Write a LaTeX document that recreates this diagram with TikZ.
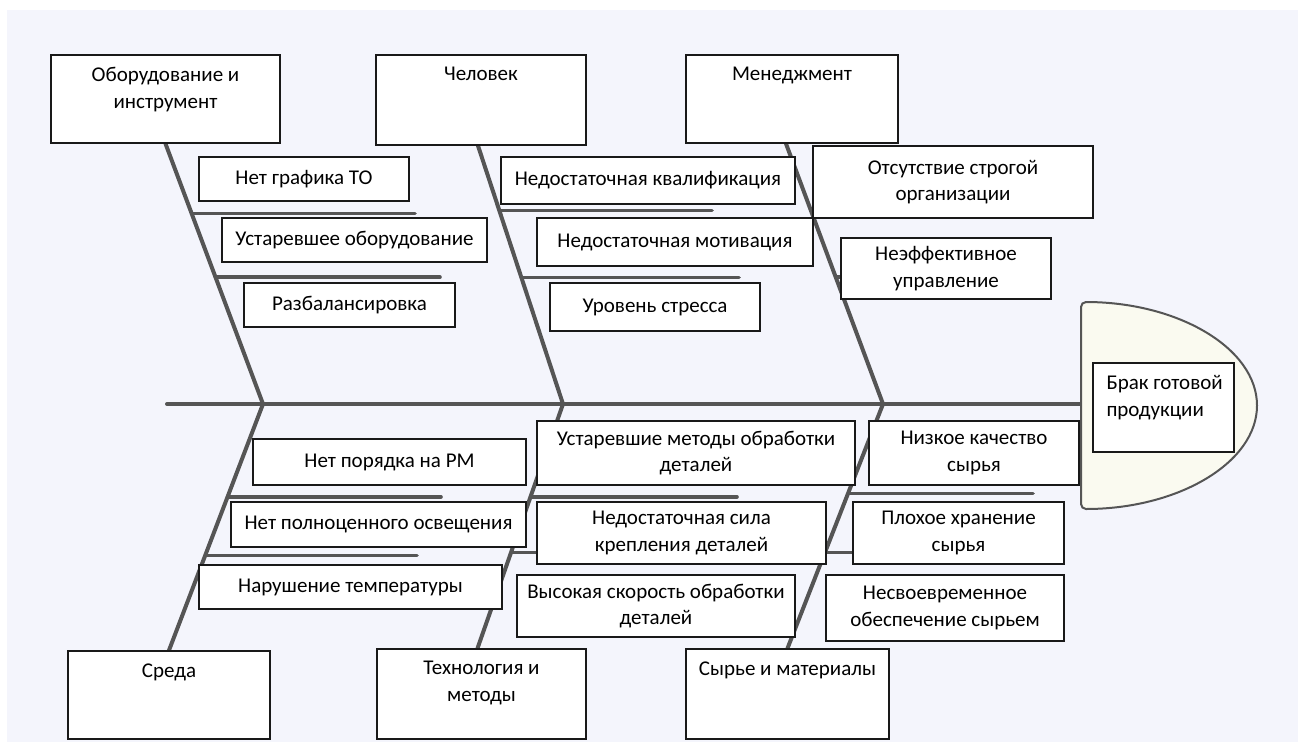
\documentclass[tikz,border=0pt]{standalone}
\usepackage{fontspec}
\setmainfont{Carlito}
\usepackage{xcolor}
\usepackage{tikz}
\usetikzlibrary{positioning,calc}

\pgfdeclarelayer{back}
\pgfdeclarelayer{bones}
\pgfsetlayers{back,bones,main}

\definecolor{paper}{RGB}{244,245,252}
\definecolor{bonegray}{RGB}{85,85,85}
\definecolor{headfill}{RGB}{250,250,240}

\tikzset{
  bone/.style={line width=4pt,draw=bonegray,line cap=round},
  rib/.style={line width=3.6pt,draw=bonegray,line cap=round},
  boxsize/.style 2 args={minimum width=#1,minimum height=#2},
  cause/.style={draw=black!90,line width=1.4pt,fill=white,inner sep=0pt,align=center},
  catbox/.style={draw=black!90,line width=1.4pt,fill=white,inner sep=0pt},
  cattext/.style={anchor=north,inner sep=0pt,align=center,yshift=-13pt},
  headtext/.style={anchor=north west,inner sep=0pt,align=left,xshift=14pt,yshift=-13pt},
}

\begin{document}
\begin{tikzpicture}[x=1pt,y=-1pt,font=\fontsize{21}{26.5}\selectfont]
    \useasboundingbox (0,0) rectangle (1298,742);
    \begin{pgfonlayer}{back}
        \fill[paper] (7,10) rectangle (1298,742);
    \end{pgfonlayer}

    % Head
    \draw[line width=2pt,draw=bonegray,fill=headfill,rounded corners=5pt]
        (1081,509) arc[start angle=90,end angle=-90,x radius=176,y radius=103.5] -- cycle;
    \coordinate (headw) at (1081,404);
    \node[catbox,boxsize={141pt}{89pt},label={[headtext]north west:{Брак готовой\\продукции}}] (defect) at (1163.5,407.5) {};

    % Category boxes
    \node[catbox,boxsize={229pt}{88pt},label={[cattext]north:{Оборудование и\\инструмент}}] (equip) at (165.5,99) {};
    \node[catbox,boxsize={210pt}{90pt},label={[cattext]north:{Человек}}] (people) at (481,100) {};
    \node[catbox,boxsize={212pt}{88pt},label={[cattext]north:{Менеджмент}}] (mgmt) at (792,99) {};
    \node[catbox,boxsize={202pt}{88pt},label={[cattext]north:{Среда}}] (env) at (169,695) {};
    \node[catbox,boxsize={209pt}{90pt},label={[cattext]north:{Технология и\\методы}}] (tech) at (481.5,694) {};
    \node[catbox,boxsize={203pt}{90pt},label={[cattext]north:{Сырье и материалы}}] (mat) at (787.5,694) {};

    % Causes: equipment
    \node[cause,boxsize={210pt}{44pt}] (noplan) at (304,179) {\raisebox{3pt}{Нет графика ТО}};
    \node[cause,boxsize={265pt}{44pt}] (oldeq) at (354.5,240) {\raisebox{3pt}{Устаревшее оборудование}};
    \node[cause,boxsize={211pt}{44pt}] (unbal) at (349.5,305) {\raisebox{3pt}{Разбалансировка}};
    % Causes: people
    \node[cause,boxsize={294pt}{47pt}] (qualif) at (648,180.5) {\raisebox{3pt}{Недостаточная квалификация}};
    \node[cause,boxsize={276pt}{48pt}] (motiv) at (675,242) {\raisebox{3pt}{Недостаточная мотивация}};
    \node[cause,boxsize={210pt}{48pt}] (stress) at (655,307) {\raisebox{3pt}{Уровень стресса}};
    % Causes: management
    \node[cause,boxsize={280pt}{72pt}] (noorg) at (953,182) {Отсутствие строгой\\организации};
    \node[cause,boxsize={210pt}{61pt}] (badmgmt) at (946,268.5) {Неэффективное\\управление};
    % Causes: environment
    \node[cause,boxsize={273pt}{46pt}] (mess) at (389.5,462) {\raisebox{3pt}{Нет порядка на РМ}};
    \node[cause,boxsize={295pt}{45pt}] (light) at (378.5,524.5) {\raisebox{3pt}{Нет полноценного освещения}};
    \node[cause,boxsize={303pt}{44pt}] (temp) at (350.5,587) {\raisebox{3pt}{Нарушение температуры}};
    % Causes: technology
    \node[cause,boxsize={318pt}{64pt}] (oldmeth) at (696,453) {Устаревшие методы обработки\\деталей};
    \node[cause,boxsize={289pt}{62pt}] (clamp) at (681.5,533) {Недостаточная сила\\крепления деталей};
    \node[cause,boxsize={278pt}{62pt}] (speed) at (656,606) {Высокая скорость обработки\\деталей};
    % Causes: materials
    \node[cause,boxsize={210pt}{64pt}] (lowq) at (974,453) {Низкое качество\\сырья};
    \node[cause,boxsize={211pt}{62pt}] (store) at (958.5,533) {Плохое хранение\\сырья};
    \node[cause,boxsize={238pt}{66pt}] (supply) at (945,608) {Несвоевременное\\обеспечение сырьем};

    % Spine and bones
    \coordinate (tail) at (167,404);
    \coordinate (j1) at (263,404);
    \coordinate (j2) at (563,404);
    \coordinate (j3) at (883,404);
    \coordinate (e1) at (415,213);
    \coordinate (e2) at (440,277);
    \coordinate (p1) at (712,210);
    \coordinate (p2) at (739,277);
    \coordinate (m1) at (1040,213);
    \coordinate (m2) at (1040,277);
    \coordinate (v1) at (441,497);
    \coordinate (v2) at (417,556);
    \coordinate (t1) at (737,497);
    \coordinate (t2) at (760,553);
    \coordinate (s1) at (1033,494);
    \coordinate (s2) at (1040,553);
    \begin{pgfonlayer}{bones}
        \draw[bone] (tail) -- (headw);
        \draw[bone] (equip.south) -- (j1) -- (env.north);
        \draw[bone] ([xshift=-3pt]people.south) -- (j2) -- ([xshift=-4pt]tech.north);
        \draw[bone] ([xshift=-6pt]mgmt.south) -- (j3) -- (mat.north);
        \draw[rib] ($(equip.south)!.268!(j1)$) coordinate (r) -- (r -| e1);
        \draw[rib] ($(equip.south)!.513!(j1)$) coordinate (r) -- (r -| e2);
        \draw[rib] ($([xshift=-3pt]people.south)!.251!(j2)$) coordinate (r) -- (r -| p1);
        \draw[rib] ($([xshift=-3pt]people.south)!.510!(j2)$) coordinate (r) -- (r -| p2);
        \draw[rib] ($([xshift=-6pt]mgmt.south)!.268!(j3)$) coordinate (r) -- (r -| m1);
        \draw[rib] ($([xshift=-6pt]mgmt.south)!.513!(j3)$) coordinate (r) -- (r -| m2);
        \draw[rib] ($(j1)!.377!(env.north)$) coordinate (r) -- (r -| v1);
        \draw[rib] ($(j1)!.615!(env.north)$) coordinate (r) -- (r -| v2);
        \draw[rib] ($(j2)!.380!([xshift=-4pt]tech.north)$) coordinate (r) -- (r -| t1);
        \draw[rib] ($(j2)!.608!([xshift=-4pt]tech.north)$) coordinate (r) -- (r -| t2);
        \draw[rib] ($(j3)!.367!(mat.north)$) coordinate (r) -- (r -| s1);
        \draw[rib] ($(j3)!.608!(mat.north)$) coordinate (r) -- (r -| s2);
    \end{pgfonlayer}
\end{tikzpicture}
\end{document}
